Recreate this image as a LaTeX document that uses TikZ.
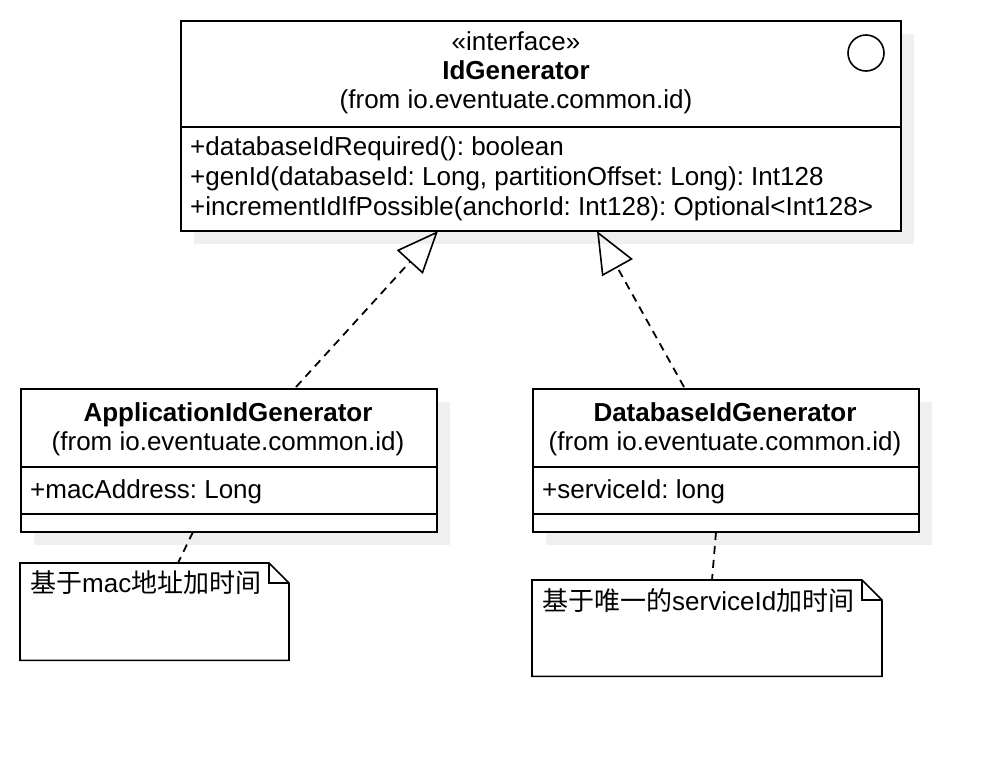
\documentclass[tikz,border=0pt]{standalone}
\usepackage{fontspec}
\setmainfont{Liberation Sans}
\newfontfamily\cjk{Noto Sans CJK SC}
\usetikzlibrary{arrows.meta}
\definecolor{shadowgray}{HTML}{EFEFEF}
\frenchspacing
\begin{document}
\begin{tikzpicture}[x=1pt,y=-1pt,
  box/.style={draw, line width=1.6pt, fill=white, inner sep=0pt, anchor=north west},
  ghost/.style={inner sep=0pt, anchor=north west},
  sep/.style={line width=1.6pt},
  txt/.style={inner sep=0pt, font=\fontsize{26}{30}\selectfont},
  dep/.style={line width=1.8pt, dash pattern=on 8pt off 6pt},
  realize/.style={dep, -{Triangle[open, length=42pt, width=35pt, line width=1.6pt, sep=0pt]}},
]
\useasboundingbox (0,0) rectangle (998,758);
% shadows
\fill[shadowgray] (194,34) rectangle (914,244);
\fill[shadowgray] (34,402) rectangle (450,545);
\fill[shadowgray] (546,402) rectangle (932,545);
% interface box
\node[box, minimum width=720pt, minimum height=210pt] (ig) at (180,20) {};
\draw[sep] (180,127) -- (900,127);
\node[draw, circle, line width=1.6pt, minimum size=36pt, inner sep=0pt] (ic) at (866,53) {};
\node[txt, anchor=base] (igs) at (516,50) {«interface»};
\node[txt, anchor=base, font=\fontsize{26}{30}\selectfont\bfseries] (ign) at (516,79) {IdGenerator};
\node[txt, anchor=base] (igp) at (516,108) {(from io.eventuate.common.id)};
\node[txt, anchor=base west] (m1) at (190,155) {+databaseIdRequired(): boolean};
\node[txt, anchor=base west] (m2) at (190,185) {+genId(databaseId: Long, partitionOffset: Long): Int128};
\node[txt, anchor=base west] (m3) at (190,215) {+incrementIdIfPossible(anchorId: Int128): Optional<Int128>};
% application box
\node[box, minimum width=416pt, minimum height=143pt] (app) at (20,388) {};
\draw[sep] (20,467) -- (436,467);
\draw[sep] (20,514) -- (436,514);
\node[txt, anchor=base, font=\fontsize{26}{30}\selectfont\bfseries] (appn) at (228,421) {ApplicationIdGenerator};
\node[txt, anchor=base] (appp) at (228,450) {(from io.eventuate.common.id)};
\node[txt, anchor=base west] (appa) at (30,498) {+macAddress: Long};
% database box
\node[box, minimum width=386pt, minimum height=143pt] (db) at (532,388) {};
\draw[sep] (532,467) -- (918,467);
\draw[sep] (532,514) -- (918,514);
\node[txt, anchor=base, font=\fontsize{26}{30}\selectfont\bfseries] (dbn) at (725,421) {DatabaseIdGenerator};
\node[txt, anchor=base] (dbp) at (725,450) {(from io.eventuate.common.id)};
\node[txt, anchor=base west] (dba) at (542,498) {+serviceId: long};
% notes
\node[ghost, minimum width=269pt, minimum height=97pt] (n1) at (20,563) {};
\draw[line width=1.6pt, fill=white] (n1.north west) -- ++(249,0) -- ++(20,20) |- (n1.south west) -- cycle;
\draw[line width=1.6pt] (269,563) -- (269,583) -- (289,583);
\node[txt, anchor=base west] (n1t) at (30,592) {{\cjk 基于}mac{\cjk 地址加时间}};
\node[ghost, minimum width=350pt, minimum height=96pt] (n2) at (532,580) {};
\draw[line width=1.6pt, fill=white] (n2.north west) -- ++(330,0) -- ++(20,20) |- (n2.south west) -- cycle;
\draw[line width=1.6pt] (862,580) -- (862,600) -- (882,600);
\node[txt, anchor=base west] (n2t) at (542,610) {{\cjk 基于唯一的}serviceId{\cjk 加时间}};
% connectors
\coordinate (appTop) at (296,387);
\coordinate (igL) at (438,231);
\coordinate (dbTop) at (684,387);
\coordinate (igR) at (597,231);
\draw[realize] (appTop) -- (igL);
\draw[realize] (dbTop) -- (igR);
\coordinate (appB) at (193,532);
\coordinate (n1T) at (178,563);
\coordinate (dbB) at (716,532);
\coordinate (n2T) at (712,580);
\draw[dep] (appB) -- (n1T);
\draw[dep] (dbB) -- (n2T);
\end{tikzpicture}
\end{document}
